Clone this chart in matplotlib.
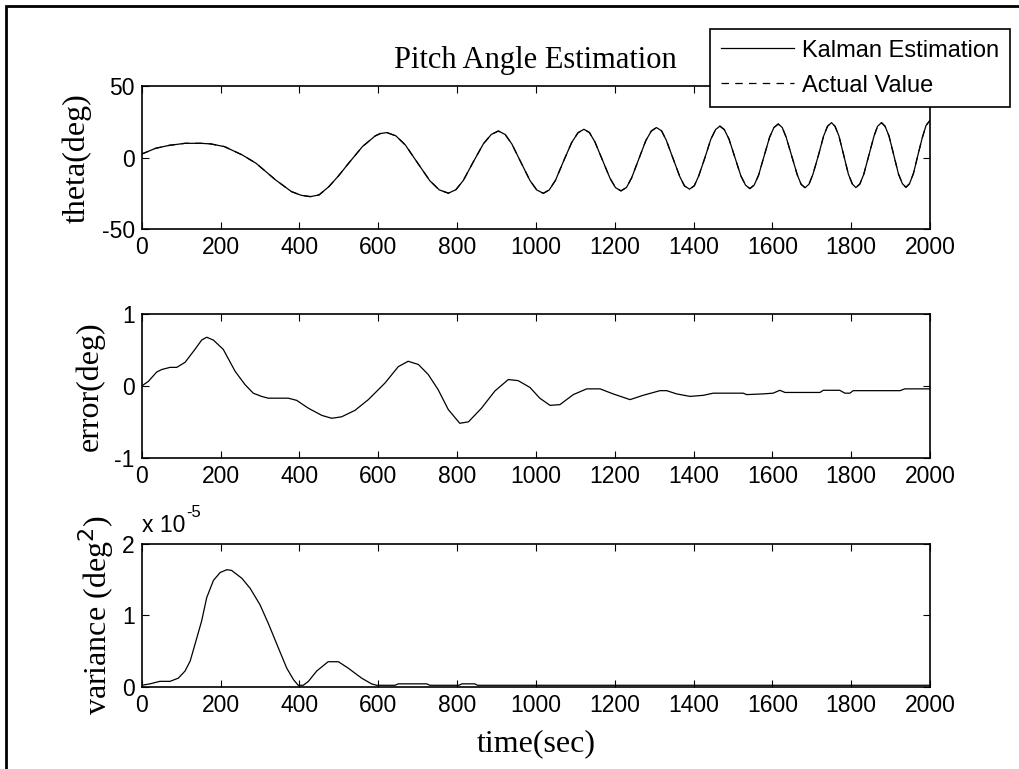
import numpy as np
import matplotlib
matplotlib.use('Agg')
import matplotlib.pyplot as plt
from matplotlib.patches import Rectangle

plt.rcParams['font.family'] = ['Liberation Sans', 'DejaVu Sans']
plt.rcParams['axes.unicode_minus'] = False

# values
t_theta = [0, 35, 70, 110, 150, 175, 210, 255, 290, 340, 380, 405, 428, 450, 475, 500, 525, 560, 592, 605,
           622, 645, 669, 700, 731, 755, 778, 797, 816, 841, 867, 887, 905, 922, 939, 962, 985, 1002, 1019, 1034,
           1050, 1070, 1091, 1107, 1122, 1136, 1150, 1169, 1188, 1202, 1216, 1230, 1243, 1261, 1279, 1293, 1306, 1319, 1331, 1348,
           1365, 1377, 1390, 1402, 1413, 1429, 1444, 1456, 1467, 1478, 1490, 1505, 1520, 1532, 1543, 1554, 1565, 1579, 1593, 1604,
           1615, 1625, 1635, 1649, 1663, 1673, 1683, 1693, 1703, 1717, 1730, 1740, 1750, 1759, 1769, 1781, 1793, 1803, 1812, 1822,
           1832, 1845, 1858, 1867, 1877, 1886, 1896, 1908, 1920, 1930, 1939, 1948, 1958, 1970, 1980, 1990, 2000]
theta_est = [2.5, 6.5, 8.6, 10, 10, 9.6, 7.7, 1.9, -3.9, -15.6, -23.7, -26.3, -27.2, -26, -20.2, -12.5, -3.9, 7.7, 15.1, 16.8,
             17.5, 15.2, 8.8, -3.7, -16.1, -22.5, -24.8, -22.4, -15.9, -3.1, 9.7, 16.2, 18.6, 16.2, 9.6, -3.2, -15.9, -22.5, -24.9, -22.5,
             -15.7, -2.6, 10.6, 17.4, 19.8, 17.5, 10.9, -1.7, -14.3, -20.9, -23.2, -20.8, -14.1, -1.1, 11.9, 18.6, 21, 18.7, 12.1, -0.5,
             -13.1, -19.7, -22, -19.6, -12.9, 0, 12.9, 19.6, 22, 19.6, 13.0, 0.2, -12.6, -19.2, -21.6, -19.1, -12.3, 1.0, 14.2, 21.0,
             23.5, 21.1, 14.3, 1.3, -11.8, -18.6, -21, -18.5, -11.6, 1.7, 15.0, 21.9, 24.4, 21.9, 15.1, 1.8, -11.6, -18.4, -20.9, -18.4,
             -11.6, 1.8, 15.1, 21.9, 24.4, 21.9, 15.1, 1.9, -11.4, -18.2, -20.7, -18.2, -11, 2.5, 13.5, 22.5, 26]
# actual value lies on top of the estimate at this scale
theta_act = list(theta_est)

t_err = [0, 17, 38, 51, 72, 89, 110, 135, 152, 165, 182, 207, 237, 262, 283, 304, 321, 372, 393, 423,
         457, 482, 507, 541, 575, 617, 651, 676, 702, 727, 752, 778, 807, 829, 862, 896, 930, 955, 985, 1010,
         1036, 1061, 1095, 1129, 1163, 1196, 1239, 1272, 1315, 1332, 1357, 1391, 1425, 1450, 1526, 1535, 1577, 1602, 1619, 1632,
         1721, 1729, 1771, 1784, 1797, 1805, 1924, 1936, 2000]
err = [0, 0.065, 0.195, 0.23, 0.26, 0.26, 0.33, 0.51, 0.64, 0.68, 0.64, 0.51, 0.205, 0.02, -0.1, -0.145, -0.17, -0.17, -0.2, -0.31,
       -0.41, -0.45, -0.43, -0.34, -0.19, 0.04, 0.27, 0.345, 0.3, 0.16, -0.05, -0.33, -0.52, -0.5, -0.31, -0.07, 0.09, 0.075, -0.02, -0.17,
       -0.27, -0.26, -0.12, -0.04, -0.04, -0.11, -0.19, -0.13, -0.065, -0.065, -0.11, -0.145, -0.13, -0.1, -0.1, -0.12, -0.11, -0.1, -0.06, -0.09,
       -0.09, -0.06, -0.06, -0.1, -0.1, -0.065, -0.065, -0.04, -0.04]

# variance in units of 1e-5 deg^2
t_var = [0, 21, 46, 72, 93, 110, 123, 135, 152, 165, 182, 199, 216, 228, 254, 275, 300, 321, 347, 368,
         385, 397, 410, 423, 444, 473, 499, 524, 558, 583, 596, 643, 651, 723, 731, 805, 812, 845, 852, 2000]
var = [0.02, 0.04, 0.075, 0.075, 0.12, 0.22, 0.36, 0.59, 0.92, 1.25, 1.49, 1.6, 1.64, 1.63, 1.52, 1.38, 1.15, 0.89, 0.54, 0.26,
       0.1, 0.02, 0.02, 0.075, 0.22, 0.35, 0.35, 0.26, 0.12, 0.04, 0.02, 0.02, 0.04, 0.04, 0.02, 0.02, 0.04, 0.04, 0.02, 0.02]

xticks = [0, 200, 400, 600, 800, 1000, 1200, 1400, 1600, 1800, 2000]

W, H = 1020, 769
fig = plt.figure(figsize=(W/100, H/100), dpi=100)

serif = 'Liberation Serif'
tick_fs = 16.5
lab_fs = 23

def ax_at(left, top, right, bottom):
    return fig.add_axes([left/W, 1-bottom/H, (right-left)/W, (bottom-top)/H])

def style(ax, yticks, ylim):
    ax.set_xlim(0, 2000)
    ax.set_ylim(*ylim)
    ax.set_xticks(xticks)
    ax.set_yticks(yticks)
    ax.tick_params(direction='in', length=5, width=0.8, top=True, right=True,
                   labelsize=tick_fs, pad=5)
    for s in ax.spines.values():
        s.set_linewidth(1.2)

ax1 = ax_at(141.7, 86, 930, 229.3)
l1, = ax1.plot(t_theta, theta_est, color='k', lw=0.9)
l2, = ax1.plot(t_theta, theta_act, color='k', lw=0.9, ls=(0, (6, 5)))
style(ax1, [-50, 0, 50], (-50, 50))
ax1.set_ylabel('theta(deg)', family=serif, fontsize=lab_fs, labelpad=7)
ax1.set_title('Pitch Angle Estimation', family=serif, fontsize=22, pad=13)

ax2 = ax_at(141.7, 314.3, 930, 457.7)
ax2.plot(t_err, err, color='k', lw=0.9)
style(ax2, [-1, 0, 1], (-1, 1))
ax2.set_ylabel('error(deg)', family=serif, fontsize=lab_fs, labelpad=7)

ax3 = ax_at(141.7, 544, 930, 686.7)
ax3.plot(t_var, var, color='k', lw=0.9)
style(ax3, [0, 1, 2], (0, 2))
ax3.set_ylabel('variance (deg$^2$)', family=serif, fontsize=lab_fs, labelpad=4)
ax3.set_xlabel('time(sec)', family=serif, fontsize=lab_fs, labelpad=9)
fig.text(141.7/W, 1-532/H, 'x 10', fontsize=tick_fs, ha='left', va='baseline')
fig.text(186/W, 1-517/H, '-5', fontsize=12, ha='left', va='baseline')

leg = fig.legend([l1, l2], ['Kalman Estimation', 'Actual Value'],
                 loc='upper right', bbox_to_anchor=(1010/W, 1-29/H),
                 fontsize=17, frameon=True, fancybox=False, framealpha=1,
                 borderaxespad=0, handlelength=3.1, handletextpad=0.35,
                 labelspacing=0.55, borderpad=0.45)
leg.get_frame().set_edgecolor('k')
leg.get_frame().set_linewidth(1.2)
leg.set_zorder(10)

# figure frame: left and top edges
fig.add_artist(Rectangle((6/W, -0.5), 2.0, 1.5 - 6/H, transform=fig.transFigure,
                         fill=False, edgecolor='k', lw=2, clip_on=False))

fig.savefig('out.png', dpi=100, facecolor='white')
